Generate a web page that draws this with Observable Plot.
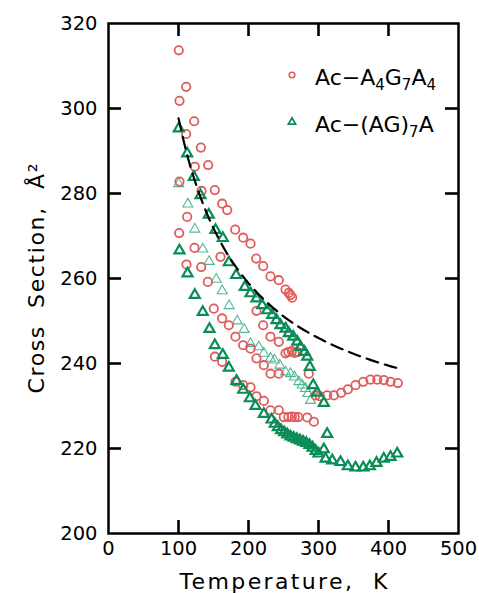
<!DOCTYPE html>
<html><head><meta charset="utf-8">
<script src="https://cdn.jsdelivr.net/npm/d3@7"></script>
<script src="https://cdn.jsdelivr.net/npm/@observablehq/plot@0.6"></script>
<style>
body{margin:0;background:#fff;}
#chart{position:relative;width:479px;height:593px;}
</style>
</head><body><div id="chart"></div>
<script>
// ---- axis ticks ----
const xTicks = [0, 100, 200, 300, 400, 500];
const yTicks = [200, 220, 240, 260, 280, 300, 320];
const xInnerTicks = [100, 200, 300, 400];
const yInnerTicks = [220, 240, 260, 280, 300];
const xLabel = "Temperature,  K";
const yLabel = "Cross  Section,  Å²";

// ---- Ac-A4G7A4 (red circles) ----
const a4g7a4T = [100.4,111.0,122.4,131.9,142.4,151.9,162.4,169.6,181.0,192.4,202.9,211.0,221.0,231.4,243.3,252.9,257.6,260.0,262.4,
  101.4,111.0,123.3,132.9,
  101.4,112.4,122.9,132.4,141.9,
  101.0,111.4,160.0,
  150.4,162.4,171.9,181.4,192.4,202.9,211.4,221.9,231.4,243.3,
  211.4,221.0,231.4,243.3,252.9,257.0,262.0,266.0,270.0,
  151.9,162.4,181.4,192.4,202.9,211.4,221.9,231.4,243.3,250.4,257.0,262.0,266.0,271.0,283.9,293.3,
  286.1,
  295.7,301.9,312.4,321.9,332.4,341.9,352.9,363.9,374.3,383.9,393.3,402.9,413.3];
const a4g7a4CS = [313.7,305.1,297.0,290.8,286.7,280.8,277.6,276.1,271.5,269.6,268.2,264.7,262.9,260.5,259.6,257.4,256.6,256.1,255.5,
  301.8,294.0,286.3,280.6,
  282.8,274.5,267.2,262.7,259.2,
  270.7,263.3,265.1,
  252.9,250.6,249.0,246.3,244.3,243.5,241.2,239.6,237.6,237.6,
  252.4,249.0,246.3,245.1,242.4,242.7,242.9,242.5,242.7,
  241.6,240.4,235.7,234.9,234.4,232.3,231.2,229.0,229.0,227.4,227.4,227.5,227.4,227.4,227.3,226.3,
  237.6,
  232.5,232.3,232.5,232.5,233.1,233.9,234.9,235.7,236.2,236.2,236.1,235.7,235.4];

// ---- Ac-(AG)7A (dark green triangles) ----
const ag7aT = [100.4,112.4,121.9,131.4,143.3,152.9,163.3,171.9,182.4,194.7,202.9,211.4,219.6,226.7,233.9,240.0,245.7,252.9,257.6,263.9,269.6,274.3,280.0,283.9,287.6,292.4,298.1,307.6,312.4,
  101.4,112.9,123.3,134.7,144.3,151.9,163.3,171.9,182.9,192.4,201.9,210.0,221.9,233.0,237.5,242.0,246.5,251.0,255.5,260.0,264.5,269.0,273.5,278.0,282.5,287.0,291.5,296.0,300.0,307.6,
  310.0,319.6,331.4,341.9,352.9,363.9,373.3,382.9,393.3,402.9,412.4];
const ag7aCS = [295.3,289.4,283.9,279.6,275.0,271.4,269.5,263.8,260.8,258.0,256.5,255.3,253.7,252.5,251.4,250.2,249.0,248.2,247.1,246.3,245.1,243.9,242.7,241.6,239.2,234.9,233.1,230.7,223.4,
  266.6,261.2,256.1,252.1,248.1,244.3,242.0,239.0,235.9,233.8,231.8,230.0,228.1,226.8,225.8,225.0,224.3,223.8,223.3,222.8,222.5,222.2,221.9,221.6,221.3,220.8,220.2,219.4,218.8,219.8,
  217.6,217.2,216.8,215.8,215.5,215.5,215.8,216.6,217.6,218.0,218.8];

// ---- light teal triangles (second Ac-(AG)7A data set) ----
const tealT = [100.4,113.3,123.3,134.7,143.8,153.9,162.4,172.4,183.9,193.8,202.9,214.7,221.9,231.4,237.1,244.7,252.9,260.0,265.7,271.9,276.7,281.4,284.7,288.6];
const tealCS = [282.3,277.5,271.6,266.9,264.0,259.8,257.1,253.6,250.0,248.0,244.7,243.9,242.4,241.2,240.8,239.6,238.0,237.6,236.8,235.7,234.9,234.1,232.9,231.3];

// ---- dashed fit curve ----
const fitT = [100,110,120,130,140,150,160,170,180,200,225,250,275,300,325,350,375,400,411];
const fitCS = [297.7,290.6,284.7,279.8,275.5,271.8,268.6,265.7,263.2,258.9,254.6,251.1,248.3,246.0,244.0,242.3,240.8,239.5,239.0];

const zip = (T, C) => T.map((t, i) => ({T: t, CS: C[i]}));
const red = zip(a4g7a4T, a4g7a4CS);
const green = zip(ag7aT, ag7aCS);
const teal = zip(tealT, tealCS);
const fit = zip(fitT, fitCS);

const W = 479, H = 593, mT = 23, mB = 60, mL = 108, mR = 21;
const innerW = W - mL - mR, innerH = H - mT - mB, TICK = 13;
const RED = "#e05c5c", GREEN = "#0a8c57", TEAL = "#52b797";

const plot = Plot.plot({
  width: W, height: H,
  marginTop: mT, marginBottom: mB, marginLeft: mL, marginRight: mR,
  x: {domain: [xTicks[0], xTicks[xTicks.length - 1]]},
  y: {domain: [yTicks[0], yTicks[yTicks.length - 1]]},
  style: {fontFamily: "DejaVu Sans", fontSize: "19.5px", color: "#000"},
  marks: [
    Plot.frame({strokeWidth: 2.5}),
    // inward ticks on all four sides
    Plot.tickX(xInnerTicks, {x: d => d, insetTop: innerH - TICK, strokeWidth: 2.6}),
    Plot.tickX(xInnerTicks, {x: d => d, insetBottom: innerH - TICK, strokeWidth: 2.6}),
    Plot.tickY(yInnerTicks, {y: d => d, insetRight: innerW - TICK, strokeWidth: 2.6}),
    Plot.tickY(yInnerTicks, {y: d => d, insetLeft: innerW - TICK, strokeWidth: 2.6}),
    Plot.axisX(xTicks, {tickSize: 0, tickPadding: 8, label: xLabel, labelAnchor: "center", labelOffset: 55, labelArrow: "none"}),
    Plot.axisY(yTicks, {tickSize: 0, tickPadding: 11, label: yLabel, labelAnchor: "center", labelOffset: 80, labelArrow: "none"}),
    Plot.dot(teal, {x: "T", y: "CS", symbol: "triangle", r: 3.7, stroke: TEAL, strokeWidth: 1.1, fill: "none"}),
    Plot.dot(red, {x: "T", y: "CS", r: 4.2, stroke: RED, strokeWidth: 1.8, fill: "none"}),
    Plot.dot(green, {x: "T", y: "CS", symbol: "triangle", r: 3.7, stroke: GREEN, strokeWidth: 2.2, fill: "none"}),
    Plot.line(fit, {x: "T", y: "CS", curve: "natural", stroke: "#000", strokeWidth: 2.2, strokeDasharray: "12,7"})
  ]
});
document.getElementById("chart").appendChild(plot);

const svg = d3.select(plot);
// axis label styling
svg.selectAll('g[aria-label="x-axis label"] text').attr("font-size", 22).attr("textLength", 208).attr("lengthAdjust", "spacing");
svg.selectAll('g[aria-label="y-axis label"] text').attr("font-size", 22).attr("textLength", 230).attr("lengthAdjust", "spacing");

// legend (inside plot, top right)
const lg = svg.append("g").attr("font-family", "DejaVu Sans").attr("font-size", 22).attr("fill", "#000").attr("text-anchor", "start");
lg.append("circle").attr("cx", 292).attr("cy", 75).attr("r", 2.8).attr("fill", "none").attr("stroke", RED).attr("stroke-width", 1.6);
lg.append("path").attr("transform", "translate(292,122)").attr("d", d3.symbol(d3.symbolTriangle, 22)()).attr("fill", "none").attr("stroke", GREEN).attr("stroke-width", 1.8);
function legendText(y, parts) {
  const t = lg.append("text").attr("x", 315).attr("y", y).attr("text-anchor", "start");
  let shifted = false;
  for (const [s, sub] of parts) {
    const sp = t.append("tspan").text(s);
    if (sub && !shifted) { sp.attr("dy", 5).attr("font-size", 15); shifted = true; }
    else if (sub) { sp.attr("font-size", 15); }
    else if (shifted) { sp.attr("dy", -5); shifted = false; }
  }
}
legendText(85, [["Ac−A", false], ["4", true], ["G", false], ["7", true], ["A", false], ["4", true]]);
legendText(131.5, [["Ac−(AG)", false], ["7", true], ["A", false]]);
</script>
</body></html>
